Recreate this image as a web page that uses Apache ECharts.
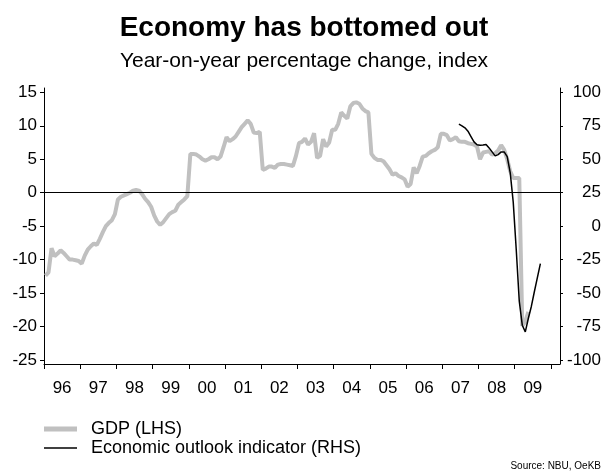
<!DOCTYPE html>
<html>
<head>
<meta charset="utf-8">
<title>Economy has bottomed out</title>
<script src="https://cdn.jsdelivr.net/npm/echarts@6/dist/echarts.min.js"></script>
<style>
  html, body { margin: 0; padding: 0; background: #fff; }
  #chart { width: 608px; height: 473px; }
</style>
</head>
<body>
<div id="chart"></div>
<script>
// Year tick labels (two-digit), one per calendar year
const yearLabels = ['96', '97', '98', '99', '00', '01', '02', '03', '04', '05', '06', '07', '08', '09'];
const firstYear = 1996;

// GDP, year-on-year % change, monthly from Jan 1996 (left axis)
const gdp = [
  -12.4, -11.9, -8.3, -9.5, -9.1, -8.6, -9.0, -9.5, -10.0, -10.0, -10.1, -10.2,
  -10.6, -9.4, -8.5, -8.0, -7.6, -7.8, -6.9, -5.9, -5.0, -4.5, -4.1, -3.2,
  -1.0, -0.6, -0.4, -0.2, 0.0, 0.3, 0.4, 0.3, -0.2, -0.9, -1.4, -2.1,
  -3.4, -4.3, -4.8, -4.4, -3.8, -3.2, -2.9, -2.7, -1.8, -1.4, -1.0, -0.5,
  5.8, 5.8, 5.7, 5.4, 5.0, 4.8, 5.0, 5.3, 5.3, 5.0, 5.4, 6.8,
  8.3, 7.7, 8.0, 8.4, 9.1, 9.8, 10.3, 10.8, 10.3, 9.0, 8.9, 9.1,
  3.4, 3.6, 3.9, 3.9, 3.7, 4.2, 4.3, 4.3, 4.2, 4.1, 4.0, 5.5,
  7.4, 7.6, 8.1, 7.2, 7.6, 8.9, 5.2, 5.5, 8.0, 6.9, 7.5, 9.4,
  9.4, 10.3, 12.0, 11.5, 11.1, 12.9, 13.4, 13.5, 13.3, 12.6, 12.2, 12.0,
  5.8, 5.2, 4.9, 4.9, 4.7, 4.1, 3.5, 2.7, 2.9, 2.5, 2.3, 2.0,
  0.9, 1.3, 3.8, 2.9, 4.0, 5.4, 5.5, 5.9, 6.2, 6.4, 6.8, 8.8,
  8.8, 8.6, 7.8, 8.0, 8.3, 7.7, 7.6, 7.6, 7.4, 7.3, 7.2, 6.9,
  5.0, 6.0, 6.1, 6.2, 5.7, 5.9, 6.3, 7.1, 6.4, 5.0, 3.2, 2.2,
  2.2, 2.2, -19.9, -19.3, -17.8
];

// Economic outlook indicator, monthly from Jun 2007 (right axis)
const outlookFirstMonth = 137; // months after Jan 1996
const outlook = [
  76.3, 75.0, 73.5, 71.0, 67.0, 63.0, 60.8,
  60.4, 60.6, 61.0, 58.5, 55.5, 52.5, 53.5, 55.5, 55.5, 52.0, 40.0, 18.0,
  -17.6, -56.0, -74.0, -79.0, -69.0, -60.0, -49.0, -38.5, -28.0
];

const leftTicks = [-25, -20, -15, -10, -5, 0, 5, 10, 15];
const rightTicks = [-100, -75, -50, -25, 0, 25, 50, 75, 100];

const GDP_NAME = 'GDP (LHS)';
const OUTLOOK_NAME = 'Economic outlook indicator (RHS)';

// month index -> position on the year axis (mid-month)
const monthPos = i => firstYear + (i + 0.5) / 12;

const gdpPoints = gdp.map((v, i) => [monthPos(i), v]);
const outlookPoints = outlook.map((v, i) => [monthPos(outlookFirstMonth + i), v]);

const yearTicks = yearLabels.map((_, i) => firstYear + i).concat([firstYear + yearLabels.length]);
const yearLabelPos = yearLabels.map((_, i) => firstYear + i + 0.5);

const FONT = 'Liberation Sans, Arial, Helvetica, sans-serif';
const AXIS_COLOR = '#000';
const GDP_COLOR = '#c0c0c0';

const legendText = { fontFamily: FONT, fontSize: 18, color: '#000', padding: [0, 0, 0, 9] };

const chart = echarts.init(document.getElementById('chart'), null, { renderer: 'canvas' });

chart.setOption({
  animation: false,
  backgroundColor: '#fff',
  textStyle: { fontFamily: FONT },
  title: [
    {
      text: 'Economy has bottomed out',
      left: 'center',
      top: 14,
      padding: 0,
      textStyle: { fontFamily: FONT, fontSize: 28, fontWeight: 'bold', color: '#000' }
    },
    {
      text: 'Year-on-year percentage change, index',
      left: 'center',
      top: 51,
      padding: 0,
      textStyle: { fontFamily: FONT, fontSize: 21, fontWeight: 'normal', color: '#000' }
    }
  ],
  // one legend block per entry so each key can have its own stroke height
  legend: [
    {
      left: 44,
      top: 420,
      padding: 0,
      icon: 'rect',
      itemWidth: 33,
      itemHeight: 5,
      textStyle: legendText,
      data: [GDP_NAME]
    },
    {
      left: 44,
      top: 439,
      padding: 0,
      icon: 'rect',
      itemWidth: 33,
      itemHeight: 1.5,
      textStyle: legendText,
      data: [OUTLOOK_NAME]
    }
  ],
  graphic: [
    {
      type: 'text',
      right: 7,
      top: 461,
      style: { text: 'Source: NBU, OeKB', font: '10px ' + FONT, fill: '#000' }
    }
  ],
  grid: { left: 44, right: 48, top: 88, bottom: 109, containLabel: false },
  xAxis: {
    type: 'value',
    min: firstYear,
    max: 2010.25,
    splitLine: { show: false },
    axisLine: { show: true, onZero: false, lineStyle: { color: AXIS_COLOR, width: 1 } },
    axisTick: { show: true, length: 5, customValues: yearTicks, lineStyle: { color: AXIS_COLOR } },
    axisLabel: {
      customValues: yearLabelPos,
      margin: 16,
      fontSize: 17,
      color: '#000',
      fontFamily: FONT,
      formatter: v => yearLabels[Math.floor(v) - firstYear] || ''
    }
  },
  yAxis: [
    {
      type: 'value',
      position: 'left',
      min: -25.6,
      max: 15.65,
      splitLine: { show: false },
      axisLine: { show: true, onZero: false, lineStyle: { color: AXIS_COLOR, width: 1 } },
      axisTick: { show: true, length: 4, customValues: leftTicks, lineStyle: { color: AXIS_COLOR } },
      axisLabel: { customValues: leftTicks, margin: 7, fontSize: 17, color: '#000', fontFamily: FONT }
    },
    {
      type: 'value',
      position: 'right',
      min: -103,
      max: 103.25,
      splitLine: { show: false },
      axisLine: { show: true, onZero: false, lineStyle: { color: AXIS_COLOR, width: 1 } },
      axisTick: { show: true, length: 3, customValues: rightTicks, lineStyle: { color: AXIS_COLOR } },
      axisLabel: { customValues: rightTicks, margin: 41, align: 'right', fontSize: 17, color: '#000', fontFamily: FONT }
    }
  ],
  series: [
    {
      name: GDP_NAME,
      type: 'line',
      yAxisIndex: 0,
      data: gdpPoints,
      showSymbol: false,
      symbol: 'none',
      lineStyle: { color: GDP_COLOR, width: 4 },
      itemStyle: { color: GDP_COLOR },
      z: 2,
      markLine: {
        silent: true,
        symbol: 'none',
        label: { show: false },
        lineStyle: { color: '#000', width: 1, type: 'solid' },
        data: [{ yAxis: 0 }],
        z: 3
      }
    },
    {
      name: OUTLOOK_NAME,
      type: 'line',
      yAxisIndex: 1,
      data: outlookPoints,
      showSymbol: false,
      symbol: 'none',
      lineStyle: { color: '#000', width: 1.5 },
      itemStyle: { color: '#000' },
      z: 4
    }
  ]
});
</script>
</body>
</html>
